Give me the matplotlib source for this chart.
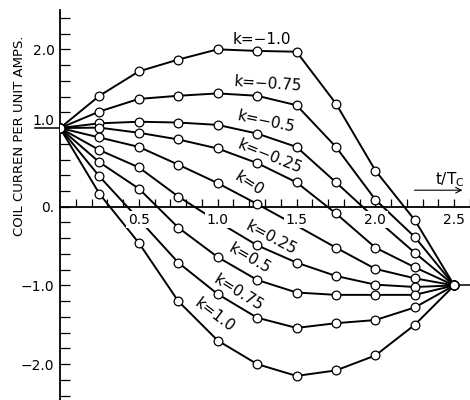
import numpy as np
import matplotlib
matplotlib.use("Agg")
import matplotlib.pyplot as plt

# time points (t / Tc)
t = [0.0, 0.25, 0.5, 0.75, 1.0, 1.25, 1.5, 1.75, 2.0, 2.25, 2.5]

# coil current per unit, one list per k value
k_neg100 = [1.0, 1.41, 1.72, 1.87, 2.00, 1.98, 1.97, 1.31, 0.46, -0.17, -1.0]
k_neg075 = [1.0, 1.21, 1.37, 1.41, 1.44, 1.41, 1.29, 0.76, 0.09, -0.385, -1.0]
k_neg050 = [1.0, 1.06, 1.08, 1.07, 1.04, 0.93, 0.76, 0.31, -0.15, -0.585, -1.0]
k_neg025 = [1.0, 1.005, 0.94, 0.855, 0.74, 0.555, 0.31, -0.086, -0.52, -0.77, -1.0]
k_zero = [1.0, 0.88, 0.76, 0.535, 0.30, 0.035, -0.24, -0.52, -0.79, -0.91, -1.0]
k_pos025 = [1.0, 0.72, 0.50, 0.13, -0.19, -0.49, -0.71, -0.88, -0.99, -1.02, -1.0]
k_pos050 = [1.0, 0.565, 0.23, -0.265, -0.64, -0.93, -1.09, -1.12, -1.12, -1.12, -1.0]
k_pos075 = [1.0, 0.385, -0.16, -0.71, -1.11, -1.41, -1.54, -1.48, -1.44, -1.28, -1.0]
k_pos100 = [1.0, 0.165, -0.46, -1.20, -1.70, -2.00, -2.15, -2.08, -1.89, -1.50, -1.0]

curves = [k_neg100, k_neg075, k_neg050, k_neg025, k_zero,
          k_pos025, k_pos050, k_pos075, k_pos100]
k_labels = ["k=\u22121.0", "k=\u22120.75", "k=\u22120.5", "k=\u22120.25", "k=0",
            "k=0.25", "k=0.5", "k=0.75", "k=1.0"]
# point hidden under an x tick label (index into t), None if all shown
hidden = [None, None, 8, None, 6, 4, None, 2, None]

# curve label placement (data coords) and rotation
label_x = [1.28, 1.32, 1.31, 1.33, 1.20, 1.34, 1.20, 1.13, 0.98]
label_y = [2.12, 1.56, 1.08, 0.64, 0.29, -0.40, -0.66, -1.09, -1.38]
label_rot = [0, -4, -12, -22, -33, -28, -30, -32, -37]

xtick_vals = [0.5, 1.0, 1.5, 2.0, 2.5]
xtick_text = ["0.5", "1.0", "1.5", "2.0", "2.5"]

fig = plt.figure(figsize=(4.7, 4.0), dpi=100)
ax = fig.add_axes([60 / 470, 0.0, 410 / 470, 390 / 400])
ax.set_xlim(0, 2.6)
ax.set_ylim(-2.456, 2.5)

for vals, hid in zip(curves, hidden):
    ax.plot(t, vals, color="black", lw=1.4, zorder=2, solid_joinstyle="round")
    mt = [x for i, x in enumerate(t) if i != hid]
    mv = [v for i, v in enumerate(vals) if i != hid]
    ax.plot(mt, mv, ls="none", marker="o", ms=6.3, mfc="white", mec="black",
            mew=0.9, zorder=4)

# short stub past the end point
ax.plot([t[-1], 2.6], [k_zero[-1], k_zero[-1]], color="black", lw=1.1, zorder=2)

for txt, x, y, r in zip(k_labels, label_x, label_y, label_rot):
    ax.text(x, y, txt, fontsize=11, rotation=r, ha="center", va="center",
            rotation_mode="anchor", zorder=6)

# x tick labels sit on the curves and break them
for xv, txt in zip(xtick_vals, xtick_text):
    ax.text(xv, -0.165, txt, fontsize=10, ha="center", va="center", zorder=5,
            bbox=dict(facecolor="white", edgecolor="none", pad=1.2))

# spines / axes
for s in ["top", "right"]:
    ax.spines[s].set_visible(False)
ax.spines["bottom"].set_position(("data", 0))
ax.spines["left"].set_linewidth(1.3)
ax.spines["bottom"].set_linewidth(1.3)

ax.set_xticks(np.round(np.arange(0.1, 2.61, 0.1), 2))
ax.tick_params(axis="x", direction="in", length=6, width=0.9, labelbottom=False)

yt = np.round(np.arange(-2.4, 2.41, 0.2), 2)
ax.set_yticks(yt)
ylabs = []
for v in yt:
    if abs(v - round(v)) < 1e-6:
        if v == 0:
            ylabs.append("0.")
        elif v < 0:
            ylabs.append("\u2212%.1f" % abs(v))
        else:
            ylabs.append("%.1f" % v)
    else:
        ylabs.append("")
ax.set_yticklabels(ylabs)
ax.tick_params(axis="y", direction="in", length=7, width=0.9, labelsize=10, pad=4)
for v, lab in zip(yt, ax.get_yticklabels()):
    if v == 1.0:
        lab.set_verticalalignment("bottom")

# underline tick at 1.0 extending left under its label
ax.plot([-0.16, 0], [1.0, 1.0], color="black", lw=1.1, clip_on=False)

# t/Tc arrow
ax.annotate("", xy=(2.57, 0.21), xytext=(2.23, 0.21),
            arrowprops=dict(arrowstyle="->", color="black", lw=0.8))
ax.text(2.47, 0.35, r"t/T$_\mathregular{C}$", fontsize=11, ha="center", va="center")

fig.text(20 / 470, 1 - 136 / 400, "COIL CURREN PER UNIT AMPS.", rotation=90,
         fontsize=9.5, ha="center", va="center")

fig.savefig("out.png", dpi=100, facecolor="white")
